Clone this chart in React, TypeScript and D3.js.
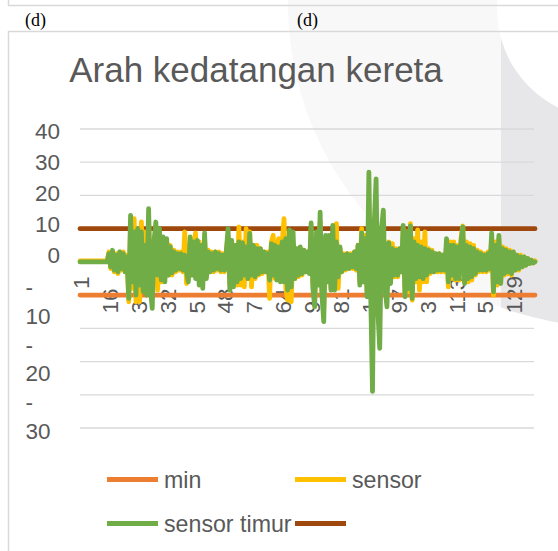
import React from 'react';
import * as d3 from 'd3';

const TITLE = 'Arah kedatangan kereta';
const Y_GRID = [40, 30, 20, 10, 0, -10, -20, -30, -40, -50];
const Y_LABELS = [40, 30, 20, 10, 0, -10, -20, -30];
const X_LABELS = ['1', '16', '3', '32', '5', '48', '7', '64', '9', '81', '1', '97', '3', '113', '5', '129'];
const LABEL_EVERY = 16;
const MIN_LEVEL = -10;
const MAX_LEVEL = 10;

const SENSOR = [
  0.3, 0.3, 0.3, 0.3, 0.3, 0.3, 0.3, 0.3, 0.3, 0.3,
  0.3, 0.3, 0.3, 0.3, 0.3, 0.3, 3, -2, 3, -3,
  2.5, -3.5, 3, -2.5, 3, -3, 2, -12, 11, -8,
  13, -12, 9, -12, 12, -8, 9, -9, 12, -7,
  -10, 7, 9, -8.5, 8, -6, 6, -5, 6, -4,
  5, -4, 3.5, -3, 3, -2.5, 3, -3, 9, -6.5,
  -5, 6, -4, 5, 8.7, -5, 6, -6, -5, 7,
  -4, 3.5, -3, 3, -3, 3, -2.5, 3, -3, 2.5,
  -3, 3, 8, -7, 6, -6, 5, -7, 10.5, -7,
  6, -7.5, 10, -5, 9, -7.5, 5, -5, 5, -4,
  4, -3.5, 3, -3, 3, -11, 6, 8, -5, 5,
  7, -5, 6, 13, -8, -11.5, 7, -12, 6, -5,
  4, -4.5, 4, -4, 3.5, -3, 3, -3, 10, -7,
  -11, 8, -6, 12, -9, -14, 7, -6, 7, -8,
  9, -7, 11.5, -8, 4, -3, 2.5, -2.5, 2.5, -2,
  2.5, -2, 3, -2.5, 5, -6, 10, -6, 8, -9,
  12, -8, -14, 9, 10, -10, -12, 8, 9, -7,
  -8, 6, -6, 5.5, -4.5, 4, -4.5, 4, -3, 10,
  -10, 9, -9, 11.5, -11.5, 7, -6, 9.6, -8.5, 6,
  -6, 9, -6, 4, -3.5, 3.5, -3, 2.5, -3, 2.5,
  -3, 2, -3, 5, -7.5, 6, -5, 6, -5.5, 5,
  -5.5, 7, 10.8, -6, 6, -6, 5.5, -5.5, 5, -4,
  3.5, -3, 3, -3, 2.5, -3, 3, -2.5, 7, -10,
  6, -7, 7, -6, 4.5, -4, 4, -3.5, 3.5, -4,
  3, -2.5, 2, -2.5, 2, -1.5, 1.5, -1, 1, -0.5,
  0.5, -0.3, 0.3,
];

const SENSOR_TIMUR = [
  0, 0, 0, 0, 0, 0, 0, 0, 0, 0,
  0, 0, 0, 0, 0, 0, 2.5, -1.5, 3.5, -2.5,
  2, -3, 3, -2, 2.5, -3, 1.5, -11, 14, -6,
  9, -10, 10, -7, 9, -9, 5, -10, 16, -8,
  -14, 6, 12, -4, 10, -5.4, 7.5, -6, 7, -4,
  4.5, -3.3, 3, -2.5, 2.5, -2, 2.5, -2.5, 2, -3,
  -6, 7.5, -4, 6, -5, 6.5, -7, 5, -8, 8.7,
  -5, 3, -3, 2.5, -2.5, 3, -2, 2.5, -2.5, 2,
  -2.5, 3, 10, -8.5, 6.5, -7.5, 5, -6, 6, -5,
  5.7, -4, 4.5, -5, 8.6, -4, 5, -4.5, 4, -3.5,
  4, -3, 3, -3, 2.5, -5.5, 5.5, -4, 5, -5.5,
  4.5, -6, 6, -6, 7, -8.5, 9.6, -7.5, 9, -5,
  4, -4, 4.5, -3.5, 3.5, -3, 3, -3.5, 11.7, -8,
  -13.5, 9, -7, 15, -10, -18, 8, -6, 8, -8.5,
  11, -8.5, 6, -4.5, 4.5, -3, 2, -2, 2.5, -2,
  2, -1.5, 3, -2, 5, -7, 8.7, -6, 7, -10.5,
  27, -10, -39, 12, 25, -15, -26, 10, 15.6, -8,
  -13.5, 5.7, -6.5, 4, -4, 3.5, -4, 4, -3, 11,
  -10.5, 9, -8, 10.8, -11, 6, -5, 5, -4.5, 4.5,
  -5, 4, -4, 3.5, -3, 3, -3, 2.5, -2.5, 2.5,
  -2.5, 2, -2.5, 7, -6, 5, -4, 5, -5, 4.5,
  -5, 6, 10.5, -6.5, 5, -5, 4.5, -4.5, 4, -3.5,
  3, -2.5, 2.5, -2.5, 2, -2.5, 2.5, -2, 8.7, -9,
  5, -6, 8, -6.5, 4, -3.5, 3.5, -3, 3, -3.5,
  3, -2.5, 2, -2, 1.5, -1.5, 1.5, -1, 1, -0.5,
  0.5, -0.3, 0,
];

const LEGEND_NAMES = ['min', 'sensor', 'sensor timur', ''];
const COLORS = { min: '#ED7D31', sensor: '#FFC000', timur: '#70AD47', max: '#9E480E' };
const LEGEND_COLORS = [COLORS.min, COLORS.sensor, COLORS.timur, COLORS.max];

const W = 558;
const H = 551;
const TEXT = '#595959';
const GRID = '#D9D9D9';
const FONT = '"Liberation Sans", Arial, sans-serif';

export default function App() {
  const N = SENSOR_TIMUR.length;
  const x = d3.scaleLinear().domain([0, N - 1]).range([80, 535]);
  const y = d3.scaleLinear().domain([-50, 40]).range([428, 129]);
  const line = d3
    .line<number>()
    .x((_, i) => x(i))
    .y((d) => y(d));
  const flat = (v: number) =>
    d3.line<number>().x((d) => x(d)).y(() => y(v))([0, N - 1]) as string;

  const sw = 4.8;

  let posIdx = 0;
  let negIdx = 0;
  const yLabelEls = Y_LABELS.map((v) => {
    if (v >= 0) {
      const by = 138.5 + 31.1 * posIdx++;
      return (
        <text key={v} x={60} y={by} textAnchor="end" fontSize={22.5} fill={TEXT} fontFamily={FONT}>
          {String(v)}
        </text>
      );
    }
    const by = 295 + 57.5 * negIdx++;
    return (
      <g key={v}>
        <text x={25.5} y={by} fontSize={22.5} fill={TEXT} fontFamily={FONT}>-</text>
        <text x={25.5} y={by + 28.5} fontSize={22.5} fill={TEXT} fontFamily={FONT}>
          {String(Math.abs(v))}
        </text>
      </g>
    );
  });

  const legendPos = [
    { lx: 107, ly: 479.5 },
    { lx: 295, ly: 479.5 },
    { lx: 107, ly: 523.5 },
    { lx: 295, ly: 523.5 },
  ];

  return (
    <svg width={W} height={H} style={{ position: 'absolute', left: 0, top: 0 }}>
      <defs>
        <clipPath id="wm">
          <circle cx={612} cy={3} r={324} />
        </clipPath>
      </defs>
      <rect x={0} y={0} width={W} height={H} fill="#ffffff" />
      <circle cx={612} cy={3} r={324} fill="#f8f8f8" />
      <g clipPath="url(#wm)">
        <rect x={501} y={0} width={80} height={H} fill="#e7e7ea" />
        <circle cx={607} cy={9} r={110} fill="#ffffff" />
      </g>

      <path d="M8.5,0 V5.5 H558" fill="none" stroke={GRID} strokeWidth={1.5} />
      <text x={25} y={26} fontFamily='"Liberation Serif", "Times New Roman", serif' fontSize={18} fill="#000">(d)</text>
      <text x={297} y={26} fontFamily='"Liberation Serif", "Times New Roman", serif' fontSize={18} fill="#000">(d)</text>
      <path d="M8.5,551 V31.5 H558" fill="none" stroke={GRID} strokeWidth={1.5} />

      <text x={256} y={82} textAnchor="middle" fontSize={35} fill={TEXT} fontFamily={FONT}>
        {TITLE}
      </text>

      {Y_GRID.map((v) => (
        <line key={v} x1={80} x2={534} y1={y(v)} y2={y(v)} stroke={GRID} strokeWidth={1.3} />
      ))}

      {yLabelEls}

      {X_LABELS.map((t, k) => {
        const xi = x(k * LABEL_EVERY) + 9;
        const yi = k === 0 ? 289 : 313.5;
        return (
          <text
            key={k}
            transform={`translate(${xi},${yi}) rotate(-90)`}
            fontSize={22.5}
            fill={TEXT}
            fontFamily={FONT}
          >
            {t}
          </text>
        );
      })}

      <path d={flat(MIN_LEVEL)} fill="none" stroke={COLORS.min} strokeWidth={sw} strokeLinecap="round" />
      <path d={flat(MAX_LEVEL)} fill="none" stroke={COLORS.max} strokeWidth={sw} strokeLinecap="round" />
      <path d={line(SENSOR) as string} fill="none" stroke={COLORS.sensor} strokeWidth={sw} strokeLinejoin="round" strokeLinecap="round" />
      <path d={line(SENSOR_TIMUR) as string} fill="none" stroke={COLORS.timur} strokeWidth={sw} strokeLinejoin="round" strokeLinecap="round" />

      {LEGEND_NAMES.map((name, i) => (
        <g key={i}>
          <line
            x1={legendPos[i].lx}
            x2={legendPos[i].lx + 51}
            y1={legendPos[i].ly}
            y2={legendPos[i].ly}
            stroke={LEGEND_COLORS[i]}
            strokeWidth={sw}
          />
          {name && (
            <text x={legendPos[i].lx + 57} y={legendPos[i].ly + 8.5} fontSize={23.2} fill={TEXT} fontFamily={FONT}>
              {name}
            </text>
          )}
        </g>
      ))}
    </svg>
  );
}
